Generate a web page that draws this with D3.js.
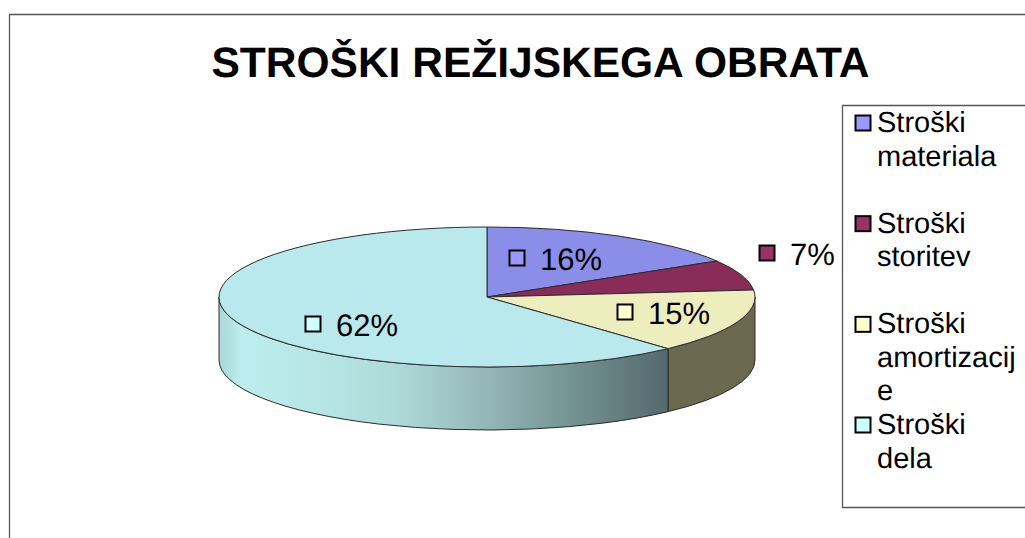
<!DOCTYPE html>
<html>
<head>
<meta charset="utf-8">
<script src="https://cdn.jsdelivr.net/npm/d3@7"></script>
<style>
  html, body { margin: 0; padding: 0; background: #fff; }
  svg { display: block; }
  text { font-family: "Liberation Sans", Arial, sans-serif; fill: #000; text-rendering: geometricPrecision; }
</style>
</head>
<body>
<svg id="chart" width="1025" height="538"></svg>
<script>
const chartTitle = "STROŠKI REŽIJSKEGA OBRATA";
const categories = [
  ["Stroški", "materiala"],
  ["Stroški", "storitev"],
  ["Stroški", "amortizacij", "e"],
  ["Stroški", "dela"],
];
// the labels show them rounded
const shares = [16.4, 7.0, 14.8, 61.8];

const topColors = ["#8b8ee8", "#8a2c58", "#ededbe", "#b9e9ec"];
const keyColors = ["#9999ff", "#993366", "#ffffcc", "#ccffff"];
// top left corner of the little square in front of each data label
const labelSpots = [[509, 250], [759, 245], [617, 304], [305, 316]];

const svg = d3.select("svg#chart");
const cx = 487, cy = 297, rx = 268, ry = 70, depth = 63;

// chart frame and legend box both run off the right edge
svg.append("path")
  .attr("d", "M9.5,538V14.5H1025")
  .attr("fill", "none").attr("stroke", "#555").attr("stroke-width", 1.3);
svg.append("path")
  .attr("d", "M1025,105.5H842.5V507.5H1025")
  .attr("fill", "none").attr("stroke", "#555").attr("stroke-width", 1.3);

svg.append("text")
  .attr("x", 540.5).attr("y", 77)
  .attr("text-anchor", "middle")
  .attr("font-size", 42.5).attr("font-weight", "bold")
  .text(chartTitle);

const slices = d3.pie().sort(null).value((d) => d)(shares);

function px(a) { return cx + rx * Math.sin(a); }
function py(a) { return cy - ry * Math.cos(a); }

// shading along the visible wall
const defs = svg.append("defs");
const wall = defs.append("linearGradient")
  .attr("id", "wall")
  .attr("gradientUnits", "userSpaceOnUse")
  .attr("x1", cx - rx).attr("x2", px(slices[2].endAngle))
  .attr("y1", 0).attr("y2", 0);
[
  [0, "#a9d5d6"], [0.05, "#bdedee"], [0.2, "#b8e6e6"], [0.4, "#aed9d9"],
  [0.6, "#93b6b6"], [0.8, "#729090"], [1, "#55686d"],
].forEach((s) => wall.append("stop").attr("offset", s[0]).attr("stop-color", s[1]));

const sideFills = [null, null, "#6b6850", "url(#wall)"];

// walls first, only the part facing the viewer
slices.forEach((s, i) => {
  const a0 = Math.max(s.startAngle, Math.PI / 2);
  const a1 = Math.min(s.endAngle, Math.PI * 1.5);
  if (a1 <= a0) return;
  const large = a1 - a0 > Math.PI ? 1 : 0;
  const d =
    "M" + px(a0) + "," + py(a0) +
    "A" + rx + "," + ry + " 0 " + large + " 1 " + px(a1) + "," + py(a1) +
    "V" + (py(a1) + depth) +
    "A" + rx + "," + ry + " 0 " + large + " 0 " + px(a0) + "," + (py(a0) + depth) +
    "Z";
  svg.append("path")
    .attr("d", d)
    .attr("fill", sideFills[i])
    .attr("stroke", "#2c2c2c").attr("stroke-width", 1);
});

// top of the pie
svg.selectAll("path.top")
  .data(slices)
  .enter()
  .append("path")
  .attr("class", "top")
  .attr("d", (s) => {
    const large = s.endAngle - s.startAngle > Math.PI ? 1 : 0;
    return "M" + cx + "," + cy +
      "L" + px(s.startAngle) + "," + py(s.startAngle) +
      "A" + rx + "," + ry + " 0 " + large + " 1 " + px(s.endAngle) + "," + py(s.endAngle) +
      "Z";
  })
  .attr("fill", (s, i) => topColors[i])
  .attr("stroke", "#2c2c2c").attr("stroke-width", 1);

// data labels
const labels = svg.selectAll("g.label")
  .data(shares)
  .enter()
  .append("g")
  .attr("class", "label")
  .attr("transform", (d, i) => "translate(" + labelSpots[i] + ")");
labels.append("rect")
  .attr("x", 0.5).attr("y", 0.5).attr("width", 15).attr("height", 15)
  .attr("fill", (d, i) => keyColors[i])
  .attr("stroke", "#000").attr("stroke-width", 2);
labels.append("text")
  .attr("x", 31).attr("y", 20)
  .attr("font-size", 31)
  .text((d) => d3.format(".0f")(d) + "%");

// legend
const legendY = d3.scaleLinear().domain([0, 3]).range([115, 417]);
const legend = svg.selectAll("g.key")
  .data(categories)
  .enter()
  .append("g")
  .attr("class", "key")
  .attr("transform", (d, i) => "translate(855," + legendY(i) + ")");
legend.append("rect")
  .attr("x", 0.5).attr("y", 0.5).attr("width", 15).attr("height", 15)
  .attr("fill", (d, i) => keyColors[i])
  .attr("stroke", "#000").attr("stroke-width", 2);
legend.append("text")
  .attr("font-size", 29)
  .selectAll("tspan")
  .data((d) => d)
  .enter()
  .append("tspan")
  .attr("x", 22)
  .attr("y", (d, i) => 17 + i * 33.5)
  .text((d) => d);
</script>
</body>
</html>
